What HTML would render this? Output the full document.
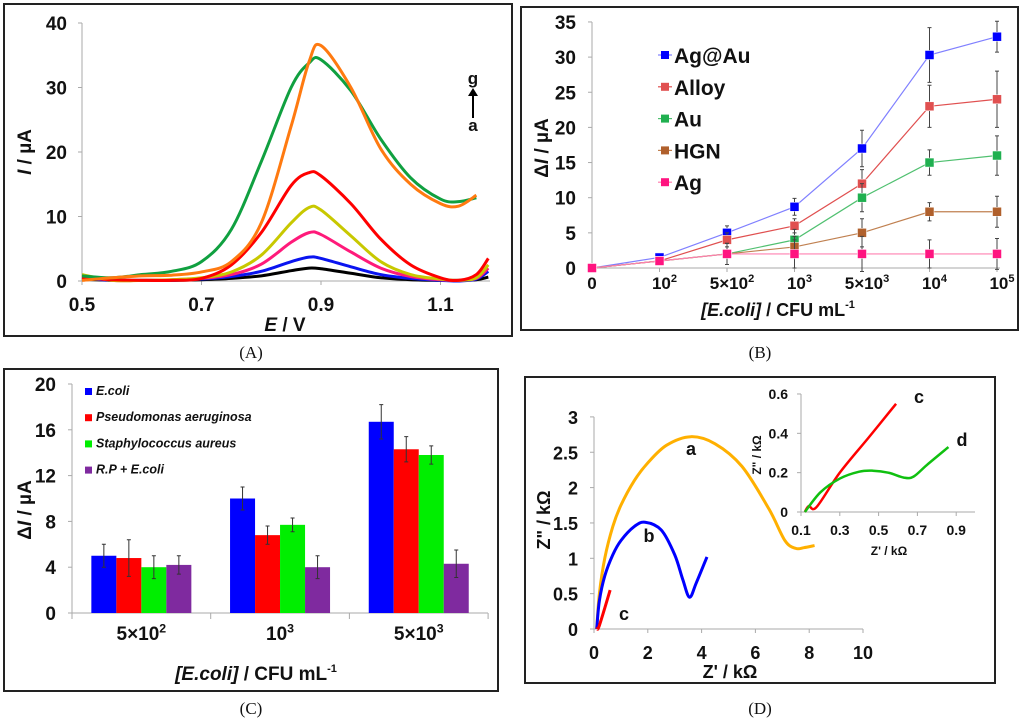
<!DOCTYPE html>
<html><head><meta charset="utf-8"><style>
html,body{margin:0;padding:0;background:#fff;}
svg{display:block;font-family:"Liberation Sans",sans-serif;}
.t{font-weight:bold;fill:#111;}
.cap{font-family:"Liberation Serif",serif;font-size:17px;fill:#111;}
</style></head><body>
<svg id="fig" width="1024" height="723" viewBox="0 0 1024 723">
<g id="pA"></g>
<g id="pB"></g>
<g id="pC"></g>
<g id="pD"></g>
<text class="cap" x="251" y="358" text-anchor="middle">(A)</text>
<text class="cap" x="760" y="358" text-anchor="middle">(B)</text>
<text class="cap" x="251" y="714" text-anchor="middle">(C)</text>
<text class="cap" x="760" y="714" text-anchor="middle">(D)</text>
</svg>
<script>
// ---------- Panel A data ----------
const aE = [0.5,0.55,0.6,0.65,0.7,0.75,0.8,0.85,0.88,0.9,0.95,1.0,1.05,1.1,1.13,1.16,1.18];
const aBlack  = [0.3,0.1,0.1,0.1,0.2,0.4,0.8,1.6,2.0,1.9,1.2,0.5,0.2,0.1,0.1,0.2,0.6];
const aBlue   = [0.5,0.1,0.1,0.1,0.3,0.7,1.5,3.0,3.7,3.5,2.2,1.0,0.4,0.1,0.0,0.3,1.5];
const aPink   = [0.8,0.1,0.1,0.2,0.4,1.0,2.6,6.0,7.5,7.2,4.5,2.0,0.7,0.2,0.1,0.4,2.0];
const aYellow = [1.0,0.1,0.1,0.2,0.5,1.4,4.0,9.0,11.4,11.0,7.0,3.0,1.0,0.3,0.1,0.5,2.5];
const aRed    = [0.5,0.2,0.1,0.1,0.4,2.5,7.5,14.8,16.8,16.3,12.0,6.5,2.5,0.5,0.1,1.0,3.5];
const aGreen  = [0.8,0.5,1.0,1.5,3.0,8.0,18.5,30.0,33.8,34.3,29.5,22.0,16.0,12.7,12.3,12.9,null];
const aOrange = [0.1,0.5,0.8,0.9,1.4,3.0,9.0,24.0,34.0,36.5,30.0,20.5,15.0,12.0,11.6,13.3,null];
const aYTicks = [0,10,20,30,40];
const aXTicks = [0.5,0.7,0.9,1.1];
// ---------- Panel B data ----------
const bCatBase = ["0","10","5×10","10","5×10","10","10"];
const bCatExp = ["","2","2","3","3","4","5"];
const bAgAu = [0,1.5,5,8.7,17,30.3,32.9];
const bAgAuErr = [0,0.3,1,1.2,2.6,3.9,2.2];
const bAlloy = [0,1,4,6,12,23,24];
const bAlloyErr = [0,0.3,1,1,2,3,4];
const bAu = [0,1,2,4,10,15,16];
const bAuErr = [0,0.3,1.5,1.5,2,1.8,2.8];
const bHGN = [0,1,2,3,5,8,8];
const bHGNErr = [0,0.3,1.5,1.5,2,1.3,2.2];
const bAg = [0,1,2,2,2,2,2];
const bAgErr = [0,0.3,1.5,2,2.5,2,2.2];
const bYTicks = [0,5,10,15,20,25,30,35];
// ---------- Panel C data ----------
const cCatBase = ["5×10","10","5×10"];
const cCatExp = ["2","3","3"];
const cEcoli = [5,10,16.7];
const cEcoliErr = [1,1,1.5];
const cPseudo = [4.8,6.8,14.3];
const cPseudoErr = [1.6,0.8,1.1];
const cStaph = [4,7.7,13.8];
const cStaphErr = [1,0.6,0.8];
const cRP = [4.2,4,4.3];
const cRPErr = [0.8,1,1.2];
const cYTicks = [0,4,8,12,16,20];
// ---------- Panel D data ----------
const dAx = [0.1,0.2,0.4,0.7,1.0,1.5,2.0,2.7,3.6,4.5,5.5,6.5,7.1,7.5,7.8,8.2];
const dAy = [0,0.5,1.0,1.45,1.75,2.1,2.35,2.6,2.72,2.62,2.3,1.7,1.25,1.14,1.15,1.18];
const dBx = [0.1,0.2,0.4,0.7,1.0,1.5,1.9,2.5,3.0,3.3,3.55,3.8,4.2];
const dBy = [0,0.4,0.75,1.05,1.25,1.45,1.51,1.4,1.05,0.7,0.45,0.65,1.02];
const dCx = [0.1,0.2,0.6];
const dCy = [0,0.05,0.55];
const dXTicks = [0,2,4,6,8,10];
const dYTicks = [0,0.5,1,1.5,2,2.5,3];
const iCx = [0.12,0.14,0.18,0.3,0.45,0.59];
const iCy = [0,0.03,0.025,0.2,0.38,0.55];
const iDx = [0.12,0.2,0.3,0.4,0.47,0.55,0.63,0.68,0.75,0.86];
const iDy = [0,0.1,0.17,0.205,0.21,0.2,0.175,0.18,0.24,0.33];
const iXTicks = [0.1,0.3,0.5,0.7,0.9];
const iYTicks = [0,0.2,0.4,0.6];

const NS="http://www.w3.org/2000/svg";
function mk(parent,tag,attrs,text){const e=document.createElementNS(NS,tag);for(const k in attrs)e.setAttribute(k,attrs[k]);if(text!==undefined)e.textContent=text;parent.appendChild(e);return e;}
function smooth(pts){
  if(pts.length<2)return "";
  let d="M"+pts[0][0]+","+pts[0][1];
  for(let i=0;i<pts.length-1;i++){
    const p0=pts[i-1]||pts[i],p1=pts[i],p2=pts[i+1],p3=pts[i+2]||p2;
    const c1=[p1[0]+(p2[0]-p0[0])/6,p1[1]+(p2[1]-p0[1])/6];
    const c2=[p2[0]-(p3[0]-p1[0])/6,p2[1]-(p3[1]-p1[1])/6];
    d+=" C"+c1[0]+","+c1[1]+" "+c2[0]+","+c2[1]+" "+p2[0]+","+p2[1];
  }
  return d;
}
function frame(g,x,y,w,h){const r=mk(g,'rect',{x:x,y:y,width:w,height:h,fill:'none',stroke:'#222','stroke-width':2});

}
function supLabel(g,x,y,base,exp,size){
  const t=mk(g,'text',{x:x,y:y,'text-anchor':'middle','font-size':size,class:'t'});
  t.appendChild(document.createTextNode(base));
  if(exp){mk(t,'tspan',{'font-size':size*0.65,dy:-size*0.4},exp);}
  return t;
}

// ===== Panel A =====
(function(){
const g=document.getElementById('pA');
frame(g,4,4,508,332);
const X=e=>82+(e-0.5)/0.2*119.5, Y=v=>281-v*6.45;
mk(g,'line',{x1:82,y1:Y(40),x2:82,y2:281,stroke:'#aaa','stroke-width':1});
mk(g,'line',{x1:82,y1:281,x2:490,y2:281,stroke:'#aaa','stroke-width':1});
aYTicks.forEach(v=>{mk(g,'line',{x1:78,y1:Y(v),x2:82,y2:Y(v),stroke:'#aaa'});
const t=mk(g,'text',{x:67,y:Y(v)+7,'text-anchor':'end','font-size':19,class:'t'},String(v));

});
aXTicks.forEach(v=>{mk(g,'line',{x1:X(v),y1:281,x2:X(v),y2:285,stroke:'#aaa'});
const t=mk(g,'text',{x:X(v),y:311,'text-anchor':'middle','font-size':19,class:'t'},v.toFixed(1));

});
const yt=mk(g,'text',{x:0,y:0,'font-size':19,class:'t',transform:'translate(31,152) rotate(-90)','text-anchor':'middle'});
yt.innerHTML='<tspan font-style="italic">I</tspan> / µA';


const xt=mk(g,'text',{x:285,y:331,'font-size':19,class:'t','text-anchor':'middle'});
xt.innerHTML='<tspan font-style="italic">E</tspan> / V';


const series=[[aBlack,'#000','curve-a'],[aBlue,'#0a14f0','curve-b'],[aPink,'#ff1a7a','curve-c'],[aYellow,'#c8c800','curve-d'],[aRed,'#ff0000','curve-e'],[aGreen,'#10a040','curve-f'],[aOrange,'#ff7a10','curve-g']];
series.forEach(s=>{const pts=[];s[0].forEach((v,i)=>{if(v!==null)pts.push([X(aE[i]),Y(v)]);});
const p=mk(g,'path',{d:smooth(pts),fill:'none',stroke:s[1],'stroke-width':3});

});
const la=mk(g,'text',{x:473,y:84,'font-size':17,class:'t','text-anchor':'middle'},'g');


mk(g,'line',{x1:473,y1:118,x2:473,y2:93,stroke:'#000','stroke-width':2});
mk(g,'path',{d:'M468,96 L473,88 L478,96 Z',fill:'#000'});
const lb=mk(g,'text',{x:473,y:131,'font-size':17,class:'t','text-anchor':'middle'},'a');


})();

// ===== Panel B =====
(function(){
const g=document.getElementById('pB');
frame(g,521,7,497,323);
const X=i=>592+i*67.5, Y=v=>268-v*7.03;
mk(g,'line',{x1:592,y1:Y(35),x2:592,y2:268,stroke:'#aaa'});
mk(g,'line',{x1:592,y1:268,x2:1000,y2:268,stroke:'#aaa'});
bYTicks.forEach(v=>{mk(g,'line',{x1:588,y1:Y(v),x2:592,y2:Y(v),stroke:'#aaa'});
const t=mk(g,'text',{x:576,y:Y(v)+7,'text-anchor':'end','font-size':19,class:'t'},String(v));

});
bCatBase.forEach((c,i)=>{mk(g,'line',{x1:X(i),y1:268,x2:X(i),y2:272,stroke:'#aaa'});
const t=supLabel(g,X(i)+(i?5:0),289,c,bCatExp[i],17);

});
const yt=mk(g,'text',{x:0,y:0,'font-size':19,class:'t',transform:'translate(548,148) rotate(-90)','text-anchor':'middle'});
yt.innerHTML='Δ<tspan font-style="italic">I</tspan> / µA';


const xt=mk(g,'text',{x:778,y:316,'font-size':18,class:'t','text-anchor':'middle'});
xt.innerHTML='<tspan font-style="italic">[E.coli]</tspan> / CFU mL<tspan font-size="11" dy="-8">-1</tspan>';


const series=[[bAgAu,bAgAuErr,'#0000ff','#8080ff','Ag@Au'],[bAlloy,bAlloyErr,'#e05050','#e05050','Alloy'],[bAu,bAuErr,'#20b050','#50c070','Au'],[bHGN,bHGNErr,'#b0602c','#c08050','HGN'],[bAg,bAgErr,'#ff1480','#ff80b0','Ag']];
series.forEach((s,k)=>{
 const sg=mk(g,'g',{});
 
 
 s[0].forEach((v,i)=>{if(s[1][i]>0)mk(sg,'path',{d:`M${X(i)},${Y(v-s[1][i])}V${Y(v+s[1][i])}M${X(i)-2},${Y(v-s[1][i])}h4M${X(i)-2},${Y(v+s[1][i])}h4`,stroke:'#444','stroke-width':1,fill:'none'});});
 mk(sg,'polyline',{points:s[0].map((v,i)=>X(i)+','+Y(v)).join(' '),fill:'none',stroke:s[3],'stroke-width':1.2});
 s[0].forEach((v,i)=>{const m=mk(sg,'rect',{x:X(i)-4.5,y:Y(v)-4.5,width:9,height:9,fill:s[2],stroke:'#fff','stroke-width':0.5});
 
 });
 const ly=55+k*31.8;
 mk(g,'line',{x1:658,y1:ly,x2:672,y2:ly,stroke:s[3],'stroke-width':1.2});
 mk(g,'rect',{x:661,y:ly-4,width:8,height:8,fill:s[2]});
 const lt=mk(g,'text',{x:674,y:ly+8,'font-size':21,class:'t'},s[4]);
 
 
});
})();

// ===== Panel C =====
(function(){
const g=document.getElementById('pC');
frame(g,4,369,494,322);
const Y=v=>613-v*11.45, gw=138.7, bw=25;
mk(g,'line',{x1:72,y1:Y(20),x2:72,y2:613,stroke:'#aaa'});
mk(g,'line',{x1:72,y1:613,x2:488,y2:613,stroke:'#aaa'});
cYTicks.forEach(v=>{mk(g,'line',{x1:68,y1:Y(v),x2:72,y2:Y(v),stroke:'#aaa'});
const t=mk(g,'text',{x:56,y:Y(v)+7,'text-anchor':'end','font-size':19,class:'t'},String(v));

});
[0,1,2,3].forEach(i=>mk(g,'line',{x1:72+i*gw,y1:613,x2:72+i*gw,y2:619,stroke:'#aaa'}));
const series=[[cEcoli,cEcoliErr,'#0000ff','E.coli'],[cPseudo,cPseudoErr,'#ff0000','Pseudomonas aeruginosa'],[cStaph,cStaphErr,'#00ee00','Staphylococcus aureus'],[cRP,cRPErr,'#7f2a9f','R.P + E.coli']];
cCatBase.forEach((c,i)=>{const cx=72+gw*(i+0.5);
 const t=supLabel(g,cx,640,c,cCatExp[i],19);
 
 
 series.forEach((s,k)=>{const x=cx-2*bw+k*bw, v=s[0][i], e=s[1][i];
  const b=mk(g,'rect',{x:x,y:Y(v),width:bw,height:613-Y(v),fill:s[2]});
  
  
  mk(g,'path',{d:`M${x+bw/2},${Y(v-e)}V${Y(v+e)}M${x+bw/2-2},${Y(v-e)}h4M${x+bw/2-2},${Y(v+e)}h4`,stroke:'#333','stroke-width':1,fill:'none'});
 });
});
series.forEach((s,k)=>{const ly=394+k*26.2;
 mk(g,'rect',{x:85,y:ly-6,width:7,height:7,fill:s[2]});
 const t=mk(g,'text',{x:96,y:ly+1,'font-size':12.5,class:'t','font-style':'italic'},s[3]);
 
 });
const yt=mk(g,'text',{x:0,y:0,'font-size':19,class:'t',transform:'translate(31,510) rotate(-90)','text-anchor':'middle'});
yt.innerHTML='Δ<tspan font-style="italic">I</tspan> / µA';


const xt=mk(g,'text',{x:256,y:680,'font-size':19,class:'t','text-anchor':'middle'});
xt.innerHTML='<tspan font-style="italic">[E.coli]</tspan> / CFU mL<tspan font-size="11" dy="-8">-1</tspan>';


})();

// ===== Panel D =====
(function(){
const g=document.getElementById('pD');
frame(g,525,377,470,306);
const X=v=>594+v*26.9, Y=v=>629-v*70.7;
mk(g,'line',{x1:594,y1:Y(3),x2:594,y2:629,stroke:'#aaa'});
mk(g,'line',{x1:594,y1:629,x2:863,y2:629,stroke:'#aaa'});
dYTicks.forEach(v=>{mk(g,'line',{x1:590,y1:Y(v),x2:594,y2:Y(v),stroke:'#aaa'});
const t=mk(g,'text',{x:578,y:Y(v)+7,'text-anchor':'end','font-size':18,class:'t'},String(v));

});
dXTicks.forEach(v=>{mk(g,'line',{x1:X(v),y1:629,x2:X(v),y2:633,stroke:'#aaa'});
const t=mk(g,'text',{x:X(v),y:659,'text-anchor':'middle','font-size':18,class:'t'},String(v));

});
const yt=mk(g,'text',{x:0,y:0,'font-size':18,class:'t',transform:'translate(550,520) rotate(-90)','text-anchor':'middle'},'Z" / kΩ');


const xt=mk(g,'text',{x:730,y:678,'font-size':18,class:'t','text-anchor':'middle'},"Z' / kΩ");


[[dAx,dAy,'#ffb000','curve-a'],[dBx,dBy,'#0000ff','curve-b'],[dCx,dCy,'#ff0000','curve-c']].forEach(s=>{
 const p=mk(g,'path',{d:smooth(s[0].map((x,i)=>[X(x),Y(s[1][i])])),fill:'none',stroke:s[2],'stroke-width':3});
 
 });
[['a',691,455],['b',649,542],['c',624,620]].forEach(l=>{const t=mk(g,'text',{x:l[1],y:l[2],'font-size':18,class:'t','text-anchor':'middle'},l[0]);

});
// inset
const IX=v=>801+(v-0.1)/0.2*38.8, IY=v=>512-v*196.7;
const ig=mk(g,'g',{});


mk(ig,'line',{x1:801,y1:IY(0.6),x2:801,y2:512,stroke:'#aaa'});
mk(ig,'line',{x1:801,y1:512,x2:975,y2:512,stroke:'#aaa'});
iYTicks.forEach(v=>{mk(ig,'line',{x1:797,y1:IY(v),x2:801,y2:IY(v),stroke:'#aaa'});
const t=mk(ig,'text',{x:788,y:IY(v)+5,'text-anchor':'end','font-size':14,class:'t'},String(v));

});
iXTicks.forEach(v=>{mk(ig,'line',{x1:IX(v),y1:512,x2:IX(v),y2:516,stroke:'#aaa'});
const t=mk(ig,'text',{x:IX(v),y:535,'text-anchor':'middle','font-size':14,class:'t'},v.toFixed(1));

});
[[iCx,iCy,'#ff0000','inset-curve-c'],[iDx,iDy,'#10c010','inset-curve-d']].forEach(s=>{
 const p=mk(ig,'path',{d:smooth(s[0].map((x,i)=>[IX(x),IY(s[1][i])])),fill:'none',stroke:s[2],'stroke-width':2.5});
 
 });
[['c',919,403],['d',962,446]].forEach(l=>{const t=mk(ig,'text',{x:l[1],y:l[2],'font-size':18,class:'t','text-anchor':'middle'},l[0]);

});
const ixt=mk(ig,'text',{x:889,y:555,'font-size':12,class:'t','text-anchor':'middle'},"Z' / kΩ");


const iyt=mk(ig,'text',{x:0,y:0,'font-size':12,class:'t',transform:'translate(761,455) rotate(-90)','text-anchor':'middle'},'Z" / kΩ');


})();
</script>
</body></html>
